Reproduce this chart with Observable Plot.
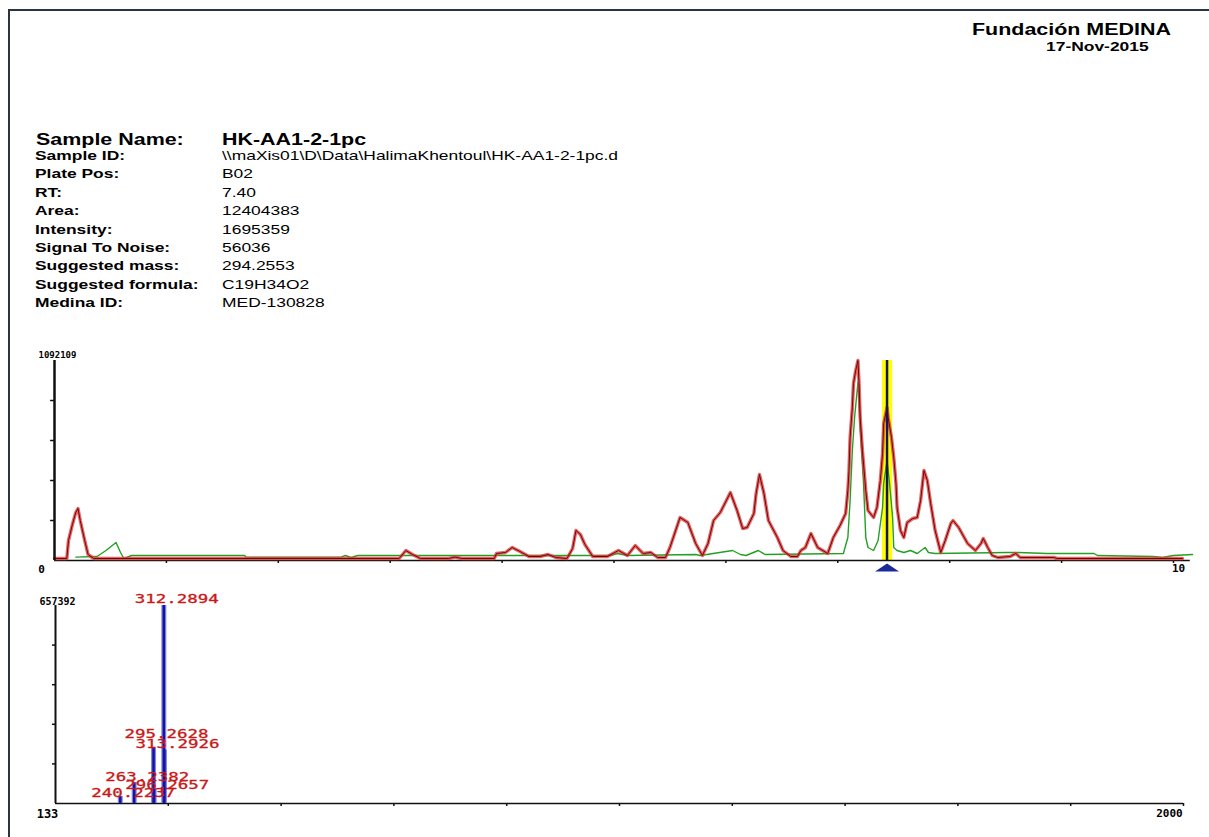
<!DOCTYPE html>
<html>
<head>
<meta charset="utf-8">
<script src="https://cdn.jsdelivr.net/npm/d3@7"></script>
<script src="https://cdn.jsdelivr.net/npm/@observablehq/plot@0.6"></script>
<style>
  html, body { margin: 0; padding: 0; background: #fff; }
  body { width: 1209px; height: 837px; overflow: hidden; position: relative;
         font-family: "Liberation Sans", Arial, sans-serif; color: #000; }
  #frame { position: absolute; left: 8px; top: 9px; width: 1220px; height: 850px;
           border-top: 2px solid #2b3440; border-left: 2px solid #2b3440; }
  .t { position: absolute; white-space: nowrap; transform-origin: 0 0; transform: scaleX(1.34); }
  .b { font-weight: bold; }
  #chrom, #spec { position: absolute; left: 0; }
  #chrom { top: 340px; }
  #spec { top: 590px; }
</style>
</head>
<body>
<div id="frame"></div>
<div id="header"></div>
<div id="chrom"></div>
<div id="spec"></div>
<script>
// ---------- header text ----------
const orgName = "Fundación MEDINA";
const reportDate = "17-Nov-2015";
const sampleNameLabel = "Sample Name:";
const sampleName = "HK-AA1-2-1pc";
const infoLabels = ["Sample ID:", "Plate Pos:", "RT:", "Area:", "Intensity:",
  "Signal To Noise:", "Suggested mass:", "Suggested formula:", "Medina ID:"];
const infoValues = ["\\\\maXis01\\D\\Data\\HalimaKhentoul\\HK-AA1-2-1pc.d", "B02", "7.40",
  "12404383", "1695359", "56036", "294.2553", "C19H34O2", "MED-130828"];

// ---------- chromatogram (RT in min, intensity as % of 1092109) ----------
const chromMaxLabel = "1092109";
const rtMin = 0, rtMax = 10;
const redTrace = [[0.00,1],[0.11,1],[0.125,10],[0.16,18],[0.19,24],[0.21,26],[0.23,20],[0.27,10],[0.30,3],[0.35,1],
  [3.08,1],[3.14,5],[3.20,3],[3.27,1],[3.52,1],[3.58,1.7],[3.64,1],[3.93,1],[3.95,3.5],[4.03,4],[4.09,6.5],[4.16,4.5],
  [4.24,2],[4.34,2],[4.41,3],[4.48,1.5],[4.58,1],[4.63,6],[4.66,15],[4.70,13],[4.74,8],[4.81,2],[4.94,2],[5.04,5],
  [5.12,2.5],[5.19,7.5],[5.26,3.5],[5.33,4],[5.39,1.5],[5.46,1.5],[5.50,6.5],[5.59,21.5],[5.66,19],[5.73,8.5],[5.79,2.5],
  [5.84,8.5],[5.89,20],[5.95,24],[6.04,34],[6.10,25],[6.15,16],[6.19,16.5],[6.25,23.5],[6.27,33.5],[6.30,43],[6.34,33.5],
  [6.38,20],[6.46,11.5],[6.51,5],[6.58,2],[6.64,2],[6.67,5],[6.71,6.5],[6.76,13.5],[6.82,6.5],[6.91,3.5],[6.96,11.5],
  [7.02,17.5],[7.07,23.5],[7.09,35],[7.10,45],[7.11,61.5],[7.13,76.5],[7.14,88.5],[7.16,95],[7.18,100],[7.19,88.5],
  [7.20,71.5],[7.22,55],[7.25,35],[7.27,25],[7.32,21.5],[7.35,26.5],[7.38,40],[7.40,53.5],[7.41,68.5],[7.44,76.5],
  [7.45,71.5],[7.48,61.5],[7.50,51.5],[7.52,38.5],[7.53,26.5],[7.56,15],[7.59,11.5],[7.62,19],[7.67,21],[7.71,21.5],
  [7.74,30],[7.77,45],[7.80,40],[7.83,28.5],[7.87,15],[7.92,4],[7.96,10],[8.01,18.5],[8.03,20],[8.08,16.5],[8.16,8.5],
  [8.23,5],[8.28,8.5],[8.30,11],[8.34,6.5],[8.38,2.5],[8.43,1.5],[8.54,2],[8.59,3.5],[8.63,1.5],[8.93,1.5],[8.96,1],[10.08,1]];
const greenTrace = [[0.19,1.7],[0.38,2],[0.46,5],[0.55,9],[0.59,4],[0.62,1],[0.69,2.5],[1.70,2.5],[1.71,1.7],[2.56,1.7],
  [2.60,2.5],[2.65,1.5],[2.71,2.5],[4.97,2.5],[5.03,3.5],[5.12,2.5],[5.73,3],[5.77,2.5],[6.06,5],[6.13,3],[6.18,2.5],
  [6.29,5],[6.35,3],[7.05,3.5],[7.09,11.5],[7.11,30],[7.13,55],[7.15,71.5],[7.18,89],[7.19,80],[7.20,66.5],[7.23,38.5],
  [7.25,11.5],[7.27,6.5],[7.32,5],[7.36,10],[7.40,26.5],[7.41,38.5],[7.44,50],[7.46,40],[7.49,21.5],[7.50,6.5],[7.53,5],
  [7.59,4],[7.65,5],[7.71,3.5],[7.78,6.5],[7.81,4],[7.87,3.5],[8.52,4],[8.61,4],[8.87,3.5],[9.29,3.5],[9.32,2.5],
  [9.82,2],[9.90,1.5],[10.00,2.5],[10.17,3]];
const markerRT = 7.44;
const markerWindow = [7.40, 7.49];
const chromXTicks = [1,2,3,4,5,6,7,8,9,10];
const chromYTicks = [20,40,60,80];

// ---------- mass spectrum (m/z, % of 657392) ----------
const specMaxLabel = "657392";
const mzMin = 133, mzMax = 2000;
const mzValues = [240.2237, 263.2382, 295.2628, 296.2657, 312.2894, 313.2926];
const mzIntensity = [3.5, 10.5, 28, 7, 100, 27];
const mzLabelDy = [-3, -6, -14, -4, -6, -6];
const specYTicks = [20,40,60,80];
const specXTicks = d3.range(1, 11).map(k => mzMin + k * (mzMax - mzMin) / 10);

// ---------- build header ----------
const header = document.getElementById("header");
function addText(txt, left, top, size, bold, color) {
  const d = document.createElement("div");
  d.className = "t" + (bold ? " b" : "");
  d.textContent = txt;
  d.style.left = left + "px";
  d.style.top = top + "px";
  d.style.fontSize = size + "px";
  d.style.lineHeight = size + "px";
  if (color) d.style.color = color;
  header.appendChild(d);
}
addText(orgName, 972, 22, 16, true);
addText(reportDate, 1046, 40, 13, true);
addText(sampleNameLabel, 36, 132, 16, true);
addText(sampleName, 222, 132, 16, true);
infoLabels.forEach((lab, i) => {
  const top = 149 + i * 18.4;
  addText(lab, 35, top, 13, true);
  addText(infoValues[i], 222, top, 13, false);
});

// ---------- chromatogram plot ----------
const red = redTrace.map(([rt, v]) => ({rt, v}));
const green = greenTrace.map(([rt, v]) => ({rt, v}));
const flatTri = { draw(ctx) { ctx.moveTo(0, -4); ctx.lineTo(12, 4); ctx.lineTo(-12, 4); ctx.closePath(); } };

const chrom = Plot.plot({
  width: 1209, height: 240,
  marginLeft: 54, marginRight: 36, marginTop: 20, marginBottom: 20,
  x: {domain: [rtMin, rtMax], axis: null},
  y: {domain: [0, 100], axis: null},
  style: {background: "transparent", overflow: "visible"},
  marks: [
    Plot.rect([markerWindow], {x1: d => d[0], x2: d => d[1], y1: 0, y2: 100, fill: "#ffff00"}),
    Plot.ruleY([0], {x1: rtMin, x2: 10.15, stroke: "#111", strokeWidth: 1.5}),
    Plot.ruleX(chromXTicks, {y1: 0, y2: -1.5, stroke: "#111", strokeWidth: 1.5}),
    Plot.ruleY(chromYTicks, {x1: 0, x2: -0.035, stroke: "#111", strokeWidth: 1.5}),
    Plot.line(green, {x: "rt", y: "v", stroke: "#23a023", strokeWidth: 1.4}),
    Plot.line(red, {x: "rt", y: "v", stroke: "#e23c3c", strokeWidth: 3.4, strokeOpacity: 0.8}),
    Plot.line(red, {x: "rt", y: "v", stroke: "#6e0808", strokeWidth: 1}),
    Plot.ruleX([markerRT], {y1: 0, y2: 100, stroke: "#14145a", strokeWidth: 2.5}),
    Plot.ruleX([0], {y1: 0, y2: 100, stroke: "#111", strokeWidth: 2.5}),
    Plot.dot([markerRT], {x: d => d, y: 0, dy: 7, symbol: flatTri, fill: "#1b2a9a", stroke: "none", r: 4}),
    Plot.text([chromMaxLabel], {x: 0, y: 100, dx: 3, dy: -5, text: d => d, fontSize: 9, fontWeight: "bold",
      fontFamily: "DejaVu Sans Mono", fill: "#000"}),
    Plot.text(["0"], {x: 0, y: 0, dx: -13, dy: 9, text: d => d, fontSize: 11, fontWeight: "bold",
      fontFamily: "DejaVu Sans Mono", fill: "#000"}),
    Plot.text(["10"], {x: rtMax, y: 0, dx: 5, dy: 8, text: d => d, fontSize: 11, fontWeight: "bold",
      fontFamily: "DejaVu Sans Mono", fill: "#000"})
  ]
});
document.getElementById("chrom").appendChild(chrom);

// ---------- mass spectrum plot ----------
const peaks = mzValues.map((mz, i) => ({mz, v: mzIntensity[i], dy: mzLabelDy[i]}));
const spec = Plot.plot({
  width: 1209, height: 230,
  marginLeft: 55, marginRight: 26, marginTop: 15, marginBottom: 17,
  x: {domain: [mzMin, mzMax], axis: null},
  y: {domain: [0, 100], axis: null},
  style: {background: "transparent", overflow: "visible"},
  marks: [
    Plot.ruleY([0], {x1: mzMin, x2: mzMax, stroke: "#111", strokeWidth: 1.5}),
    Plot.ruleX(specXTicks, {y1: 0, y2: -1.5, stroke: "#111", strokeWidth: 1.5}),
    Plot.ruleY(specYTicks, {x1: mzMin, x2: mzMin - 5, stroke: "#111", strokeWidth: 1.5}),
    Plot.ruleX(peaks, {x: "mz", y1: 0, y2: "v", stroke: "#7f86e6", strokeWidth: 5}),
    Plot.ruleX(peaks, {x: "mz", y1: 0, y2: "v", stroke: "#14149e", strokeWidth: 2.5}),
    Plot.ruleX([mzMin], {y1: 0, y2: 100, stroke: "#111", strokeWidth: 2}),
    ...peaks.map(p => Plot.text([p], {x: "mz", y: "v", dx: 13, dy: p.dy, text: d => d.mz.toFixed(4),
      fontSize: 12, fontFamily: "DejaVu Sans Mono", fill: "#c81818", stroke: "#c81818", strokeWidth: 0.3})),
    Plot.text([specMaxLabel], {x: mzMin, y: 100, dx: 2, dy: -4, text: d => d, fontSize: 10, fontWeight: "bold",
      fontFamily: "DejaVu Sans Mono", fill: "#000"}),
    Plot.text([String(mzMin)], {x: mzMin, y: 0, dx: -8, dy: 11, text: d => d, fontSize: 12, fontWeight: "bold",
      fontFamily: "DejaVu Sans Mono", fill: "#000"}),
    Plot.text([String(mzMax)], {x: mzMax, y: 0, dx: -14, dy: 10, text: d => d, fontSize: 11, fontWeight: "bold",
      fontFamily: "DejaVu Sans Mono", fill: "#000"})
  ]
});
document.getElementById("spec").appendChild(spec);
d3.select(spec).selectAll("text").each(function() {
  if (/^\d{3}\.\d{4}$/.test(this.textContent)) {
    this.setAttribute("textLength", 84);
    this.setAttribute("lengthAdjust", "spacingAndGlyphs");
  }
});
</script>
</body>
</html>
